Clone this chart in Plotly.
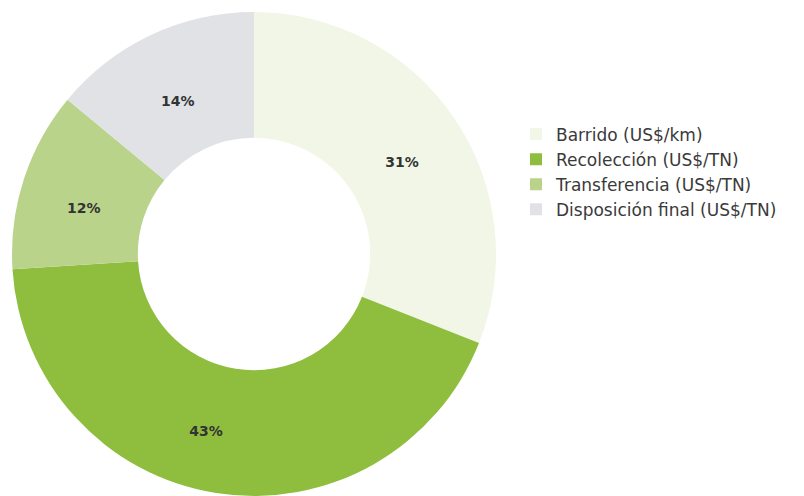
import plotly.graph_objects as go

labels = ["Barrido (US$/km)", "Recolección (US$/TN)", "Transferencia (US$/TN)", "Disposición final (US$/TN)"]
values = [31, 43, 12, 14]
colors = ["#f1f6e7", "#8fbe3f", "#b9d48a", "#e1e2e5"]

W, H = 804, 496
cx, cy, R = 254, 254, 242

# label nudges to mimic the reference placement (empty line / padding)
templates = [
    "&nbsp;<br><b>%{percent:.0%}</b>",
    "<b>%{percent:.0%}</b>" + "&nbsp;" * 9,
    "&nbsp;<br><b>%{percent:.0%}</b>",
    "&nbsp;<br><b>%{percent:.0%}</b>",
]

fig = go.Figure(go.Pie(
    labels=labels,
    values=values,
    hole=0.48,
    sort=False,
    direction="clockwise",
    rotation=0,
    marker=dict(colors=colors, line=dict(width=0)),
    texttemplate=templates,
    textposition="inside",
    insidetextorientation="horizontal",
    textfont=dict(family="DejaVu Sans", size=14, color="#333333"),
    domain=dict(x=[(cx - R) / W, (cx + R) / W], y=[(H - cy - R) / H, (H - cy + R) / H]),
))

fig.update_layout(
    width=W, height=H,
    margin=dict(l=0, r=0, t=0, b=0),
    paper_bgcolor="white",
    plot_bgcolor="white",
    showlegend=True,
    legend=dict(
        x=516 / W, y=1 - 172 / H, xanchor="left", yanchor="middle",
        font=dict(family="DejaVu Sans", size=17, color="#3a3a3a"),
        tracegroupgap=0,
    ),
)

fig.write_html("out.html")
